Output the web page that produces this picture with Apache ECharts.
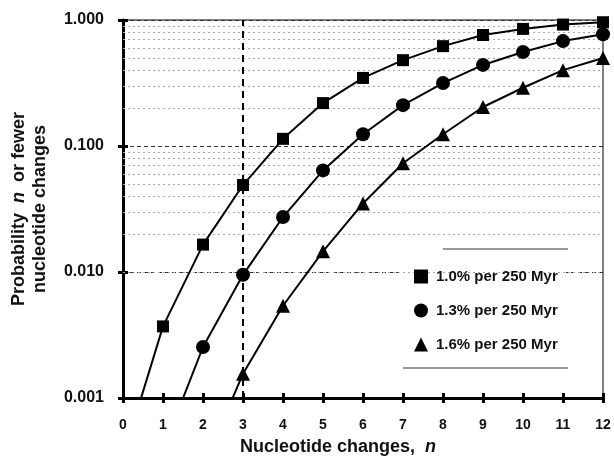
<!DOCTYPE html>
<html>
<head>
<meta charset="utf-8">
<script src="https://cdn.jsdelivr.net/npm/echarts@6/dist/echarts.min.js"></script>
<style>
html,body{margin:0;padding:0;background:#fff;}
#chart{width:614px;height:458px;}
</style>
</head>
<body>
<div id="chart"></div>
<script>
// Data (first point of each curve lies below 0.001 and is clipped)
const nValues = [0,1,2,3,4,5,6,7,8,9,10,11,12];
const seriesNames = ['1.0% per 250 Myr','1.3% per 250 Myr','1.6% per 250 Myr'];
const rate10 = [0.00034,0.0037,0.0165,0.049,0.114,0.219,0.347,0.48,0.62,0.76,0.85,0.92,0.96];
const rate13 = [null,0.00039,0.00254,0.0095,0.0273,0.064,0.124,0.211,0.316,0.44,0.557,0.68,0.77];
const rate16 = [null,null,0.00028,0.00156,0.0054,0.0146,0.035,0.073,0.124,0.204,0.29,0.40,0.50];
const yTicks = [0.001,0.01,0.1,1];
const minorLevels = [0.002,0.003,0.004,0.005,0.006,0.007,0.008,0.009,
                     0.02,0.03,0.04,0.05,0.06,0.07,0.08,0.09,
                     0.2,0.3,0.4,0.5,0.6,0.7,0.8,0.9];
const markedN = 3;

const FONT = '"Liberation Sans", Arial, Helvetica, sans-serif';
const chart = echarts.init(document.getElementById('chart'), null, {renderer:'canvas'});

function toData(arr){
  const out = [];
  arr.forEach((v,i)=>{ if(v!==null) out.push([nValues[i], v]); });
  return out;
}
const symbols = ['rect','circle','triangle'];
const sizes = [12,14,14];
const series = [rate10,rate13,rate16].map((arr,k)=>({
  name: seriesNames[k],
  type:'line',
  xAxisIndex:0, yAxisIndex:0,
  data: toData(arr),
  symbol: symbols[k],
  symbolSize: (val)=> val[1] < yTicks[0] ? 0 : sizes[k],
  showAllSymbol: true,
  clip: true,
  lineStyle:{color:'#000', width:2},
  itemStyle:{color:'#000'},
  z: 5,
  animation:false
}));
// gridlines & marker line via markLine on a background series
series.push({
  name:'_grid',
  type:'line',
  xAxisIndex:0, yAxisIndex:0,
  data: toData(rate10),
  lineStyle:{opacity:0}, symbol:'none',
  z:1, silent:true, animation:false,
  markLine:{
    silent:true, animation:false, symbol:['none','none'],
    label:{show:false},
    data: minorLevels.map(v=>({yAxis:v, lineStyle:{color:'#a8a8a8', type:[2,3], width:1}}))
      .concat([{xAxis:markedN, lineStyle:{color:'#000', type:[7,5], width:2}}])
  }
});

chart.setOption({
  backgroundColor:'#fff',
  animation:false,
  textStyle:{fontFamily:FONT},
  grid:[
    {left:123, right:11, top:20, bottom:60, outerBoundsMode:'none', containLabel:false,
     show:true, borderColor:'#000', borderWidth:1, backgroundColor:'transparent'},
    {left:123, right:11, top:20, bottom:60, outerBoundsMode:'none', containLabel:false, show:false}
  ],
  legend:{
    data: seriesNames.map((n,k)=>({name:n, icon:symbols[k]})),
    orient:'vertical',
    left:408, top:263,
    itemWidth:14, itemHeight:14, itemGap:19,
    padding:[6,8,6,6],
    textStyle:{fontFamily:FONT, fontWeight:'bold', fontSize:15, color:'#111', padding:[0,0,0,3]},
    itemStyle:{color:'#000'},
    selectedMode:false,
    z:6
  },
  graphic:[
    {type:'rect', shape:{x:404,y:256,width:162,height:104}, style:{fill:'#fff'}, z:4, silent:true},
    {type:'line', shape:{x1:443,y1:249,x2:568,y2:249}, style:{stroke:'#777', lineWidth:1.5}, z:10},
    {type:'line', shape:{x1:403,y1:368,x2:568,y2:368}, style:{stroke:'#777', lineWidth:1.5}, z:10}
  ],
  xAxis:[
    {
      type:'value', gridIndex:0, min:0, max:12, interval:1, position:'bottom',
      axisLine:{show:true, lineStyle:{color:'#000', width:3}},
      axisTick:{show:true, inside:false, length:5, lineStyle:{color:'#000', width:3}},
      axisLabel:{fontFamily:FONT, fontWeight:'bold', fontSize:14, color:'#111', margin:20},
      splitLine:{show:false},
      name:'{b|Nucleotide changes,  }{i|n}',
      nameLocation:'middle', nameGap:40,
      nameTextStyle:{
        padding:[0,50,0,0],
        rich:{
          b:{fontFamily:FONT, fontWeight:'bold', fontSize:18, color:'#111'},
          i:{fontFamily:FONT, fontWeight:'bold', fontStyle:'italic', fontSize:18, color:'#111'}
        }
      }
    },
    {
      type:'value', gridIndex:1, min:0, max:12, interval:1, position:'bottom',
      axisLine:{show:false},
      axisTick:{show:true, inside:true, length:5, lineStyle:{color:'#000', width:3}},
      axisLabel:{show:false}, splitLine:{show:false}
    }
  ],
  yAxis:[
    {
      type:'log', logBase:10, gridIndex:0, min:yTicks[0], max:yTicks[yTicks.length-1],
      axisLine:{show:true, lineStyle:{color:'#000', width:3}},
      axisTick:{show:true, inside:false, length:5, lineStyle:{color:'#000', width:3}},
      axisLabel:{fontFamily:FONT, fontWeight:'bold', fontSize:16, color:'#111', margin:19,
        formatter:(v)=>Number(v).toFixed(3)},
      splitLine:{show:true, lineStyle:{color:'#333', type:[4,3], width:1}},
      minorTick:{show:false}, minorSplitLine:{show:false},
      name:'{b|Probability  }{i|n}{b|  or fewer}\n{b|nucleotide changes}',
      nameLocation:'middle', nameRotate:90, nameGap:72,
      nameTextStyle:{
        align:'center', lineHeight:21,
        rich:{
          b:{fontFamily:FONT, fontWeight:'bold', fontSize:18, color:'#111', lineHeight:21},
          i:{fontFamily:FONT, fontWeight:'bold', fontStyle:'italic', fontSize:18, color:'#111', lineHeight:21}
        }
      }
    },
    {
      type:'log', logBase:10, gridIndex:1, min:yTicks[0], max:yTicks[yTicks.length-1],
      axisLine:{show:false},
      axisTick:{show:true, inside:true, length:5, lineStyle:{color:'#000', width:3}},
      axisLabel:{show:false}, splitLine:{show:false}
    }
  ],
  series: series
});
</script>
</body>
</html>
